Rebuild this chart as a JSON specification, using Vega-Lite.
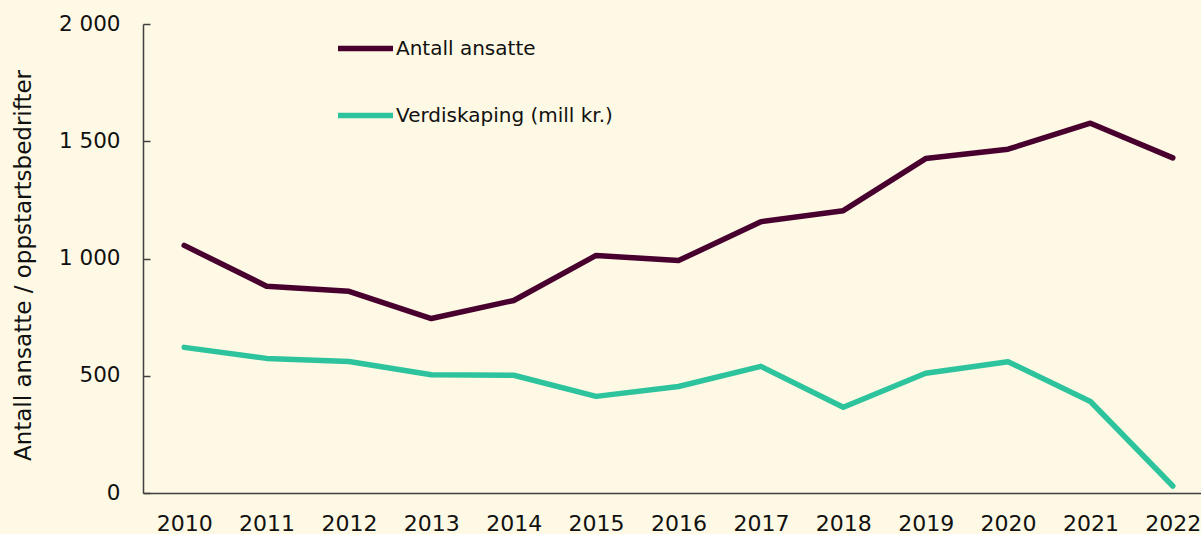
{
  "$schema": "https://vega.github.io/schema/vega-lite/v6.json",
  "autosize": {"type": "none"},
  "padding": {"left": 143, "top": 24, "right": 0, "bottom": 41},
  "width": 1071,
  "height": 469,
  "background": "#FEF9E4",
  "config": {
    "view": {"stroke": null},
    "font": "DejaVu Sans"
  },
  "data": {
    "values": [
      {"year": "2010", "series": "Antall ansatte", "value": 1056},
      {"year": "2011", "series": "Antall ansatte", "value": 882},
      {"year": "2012", "series": "Antall ansatte", "value": 860},
      {"year": "2013", "series": "Antall ansatte", "value": 744},
      {"year": "2014", "series": "Antall ansatte", "value": 821},
      {"year": "2015", "series": "Antall ansatte", "value": 1013},
      {"year": "2016", "series": "Antall ansatte", "value": 991},
      {"year": "2017", "series": "Antall ansatte", "value": 1157},
      {"year": "2018", "series": "Antall ansatte", "value": 1204},
      {"year": "2019", "series": "Antall ansatte", "value": 1426},
      {"year": "2020", "series": "Antall ansatte", "value": 1466},
      {"year": "2021", "series": "Antall ansatte", "value": 1577},
      {"year": "2022", "series": "Antall ansatte", "value": 1429},
      {"year": "2010", "series": "Verdiskaping (mill kr.)", "value": 621},
      {"year": "2011", "series": "Verdiskaping (mill kr.)", "value": 574},
      {"year": "2012", "series": "Verdiskaping (mill kr.)", "value": 561},
      {"year": "2013", "series": "Verdiskaping (mill kr.)", "value": 504},
      {"year": "2014", "series": "Verdiskaping (mill kr.)", "value": 502},
      {"year": "2015", "series": "Verdiskaping (mill kr.)", "value": 412},
      {"year": "2016", "series": "Verdiskaping (mill kr.)", "value": 454},
      {"year": "2017", "series": "Verdiskaping (mill kr.)", "value": 540},
      {"year": "2018", "series": "Verdiskaping (mill kr.)", "value": 366},
      {"year": "2019", "series": "Verdiskaping (mill kr.)", "value": 511},
      {"year": "2020", "series": "Verdiskaping (mill kr.)", "value": 560},
      {"year": "2021", "series": "Verdiskaping (mill kr.)", "value": 390},
      {"year": "2022", "series": "Verdiskaping (mill kr.)", "value": 30}
    ]
  },
  "mark": {"type": "line", "strokeWidth": 5.5, "strokeCap": "round", "strokeJoin": "round"},
  "encoding": {
    "x": {
      "field": "year",
      "type": "ordinal",
      "scale": {"type": "point", "padding": 0.5},
      "axis": {
        "title": null,
        "labelAngle": 0,
        "ticks": false,
        "labelPadding": 20,
        "labelFontSize": 22,
        "labelColor": "#111111",
        "domainColor": "#404040",
        "domainWidth": 1.5,
        "grid": false
      }
    },
    "y": {
      "field": "value",
      "type": "quantitative",
      "scale": {"domain": [0, 2000], "nice": false},
      "axis": {
        "values": [0, 500, 1000, 1500, 2000],
        "labelExpr": "replace(format(datum.value, ','), ',', ' ')",
        "title": "Antall ansatte / oppstartsbedrifter",
        "titleFontSize": 23,
        "titleFontWeight": "normal",
        "titleColor": "#111111",
        "titleX": -120,
        "titleY": 241,
        "titleAngle": -90,
        "titleAlign": "center",
        "titleBaseline": "middle",
        "labelFontSize": 21.5,
        "labelColor": "#111111",
        "labelPadding": 30,
        "tickSize": -7,
        "tickColor": "#404040",
        "tickWidth": 1.5,
        "domainColor": "#404040",
        "domainWidth": 1.5,
        "grid": false
      }
    },
    "color": {
      "field": "series",
      "type": "nominal",
      "scale": {
        "domain": ["Antall ansatte", "Verdiskaping (mill kr.)"],
        "range": ["#48002F", "#2DC39D"]
      },
      "legend": {
        "title": null,
        "orient": "none",
        "legendX": 192,
        "legendY": -6,
        "padding": 0,
        "symbolType": "stroke",
        "symbolSize": 3025,
        "symbolStrokeWidth": 5.5,
        "labelFontSize": 20,
        "labelColor": "#111111",
        "labelOffset": 0,
        "labelLimit": 500,
        "rowPadding": 25
      }
    }
  }
}
